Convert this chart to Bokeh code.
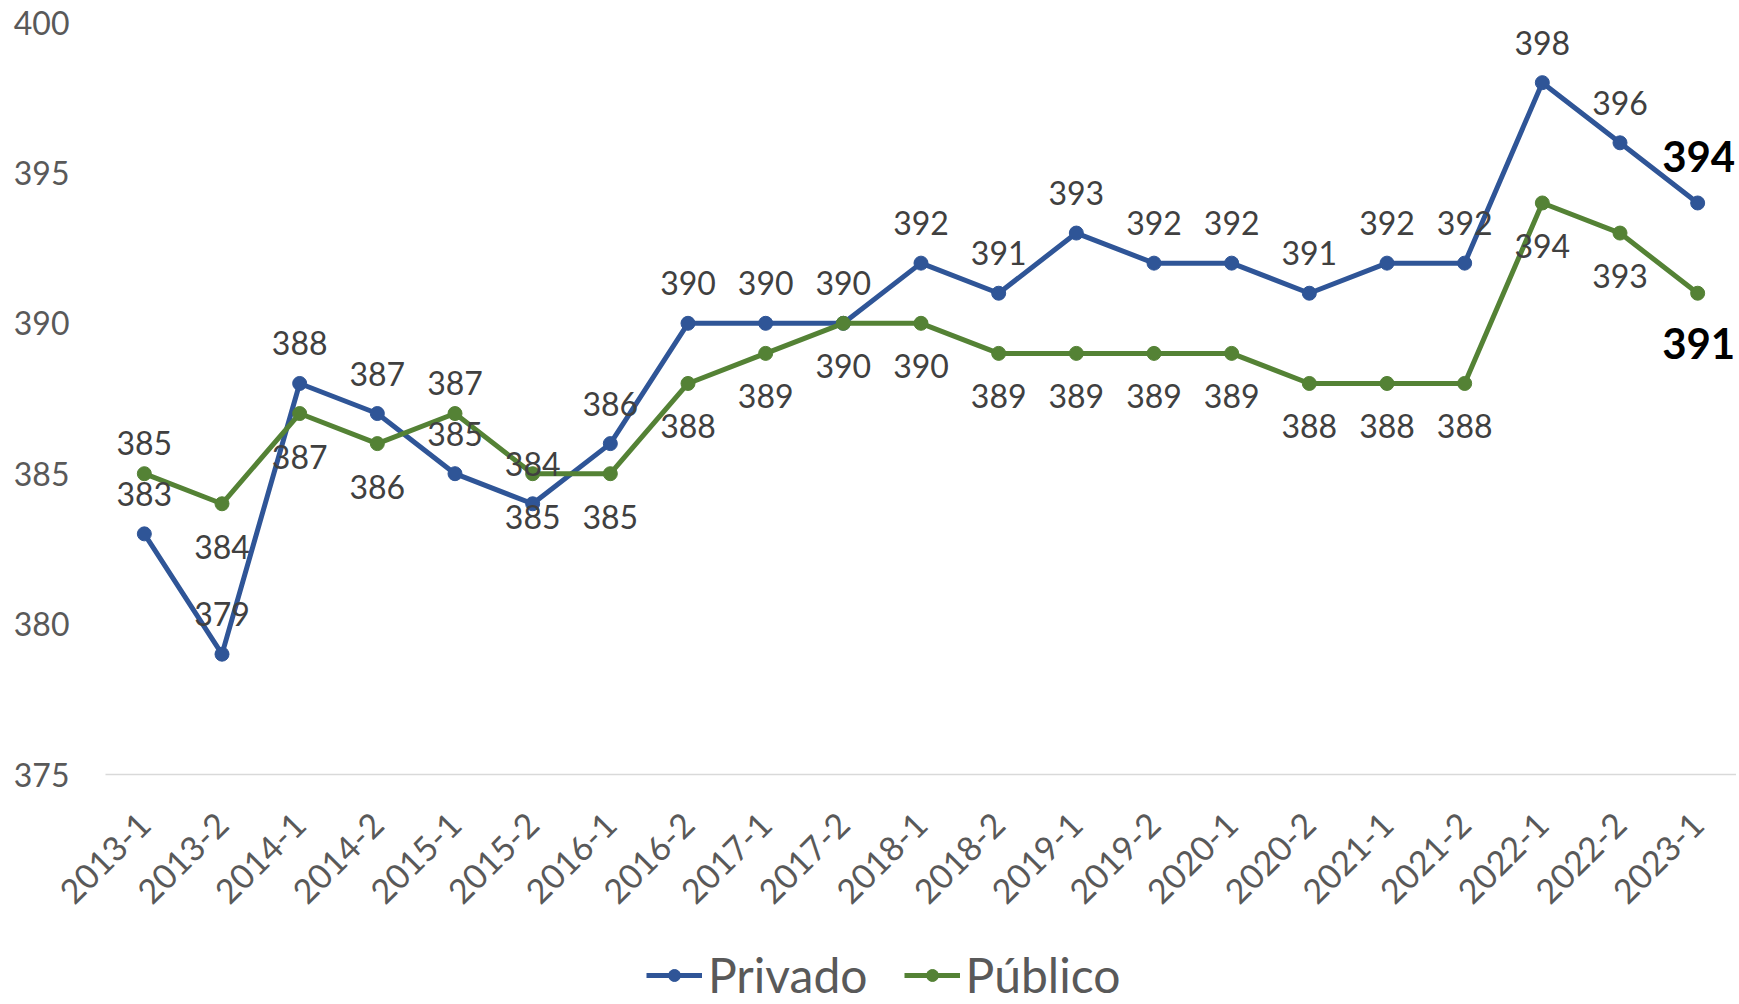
import math
from bokeh.plotting import figure
from bokeh.layouts import column
from bokeh.models import (FactorRange, Range1d, Legend, LegendItem, ColumnDataSource,
                          FixedTicker)
from bokeh.core.properties import value
from bokeh.embed import file_html
from bokeh.resources import INLINE

# ---------------- data ----------------
periodos = ["2013-1", "2013-2", "2014-1", "2014-2", "2015-1", "2015-2", "2016-1",
            "2016-2", "2017-1", "2017-2", "2018-1", "2018-2", "2019-1", "2019-2",
            "2020-1", "2020-2", "2021-1", "2021-2", "2022-1", "2022-2", "2023-1"]
privado = [383, 379, 388, 387, 385, 384, 386, 390, 390, 390, 392, 391, 393, 392,
           392, 391, 392, 392, 398, 396, 394]
publico = [385, 384, 387, 386, 387, 385, 385, 388, 389, 390, 390, 389, 389, 389,
           389, 388, 388, 388, 394, 393, 391]
y_ticks = [375, 380, 385, 390, 395, 400]
serie_nombres = ["Privado", "Público"]

# label placement style: Público labels drawn above the point at these periods
publico_arriba = {"2013-1", "2015-1"}

# ---------------- style ----------------
AZUL = "#2F5597"
VERDE = "#548235"
FONT = "Lato"
Y0, Y1 = 375, 400
W = 1736
TOP, LEFT, BOTTOM = 22, 105, 148
FRAME_H = 752
H_MAIN = TOP + FRAME_H + BOTTOM
H_LEG = 1003 - H_MAIN
PX = FRAME_H / (Y1 - Y0)  # pixels per data unit

p = figure(x_range=FactorRange(*periodos), y_range=Range1d(Y0, Y1),
           width=W, height=H_MAIN, output_backend="svg", toolbar_location=None,
           min_border_left=LEFT, min_border_right=0, min_border_top=TOP,
           min_border_bottom=BOTTOM)
p.outline_line_color = None
p.background_fill_color = "white"
p.xgrid.visible = False
p.ygrid.visible = False

# axes
p.yaxis.ticker = FixedTicker(ticks=y_ticks)
p.yaxis.axis_line_color = None
p.yaxis.major_tick_line_color = None
p.yaxis.minor_tick_line_color = None
p.yaxis.major_tick_out = 0
p.yaxis.major_tick_in = 0
p.yaxis.major_label_standoff = 36
p.yaxis.major_label_text_font = FONT
p.yaxis.major_label_text_font_size = "32px"
p.yaxis.major_label_text_color = "#595959"

p.xaxis.axis_line_color = "#D9D9D9"
p.xaxis.axis_line_width = 1.5
p.xaxis.major_tick_line_color = None
p.xaxis.minor_tick_line_color = None
p.xaxis.major_tick_out = 0
p.xaxis.major_tick_in = 0
p.xaxis.major_label_orientation = math.pi / 4
p.xaxis.major_label_standoff = 44
p.xaxis.major_label_text_font = FONT
p.xaxis.major_label_text_font_size = "34px"
p.xaxis.major_label_text_color = "#595959"

src = ColumnDataSource(dict(x=periodos, priv=privado, pub=publico))

p.line("x", "priv", source=src, line_color=AZUL, line_width=5)
p.scatter("x", "priv", source=src, size=14, fill_color=AZUL, line_color=AZUL)
p.line("x", "pub", source=src, line_color=VERDE, line_width=5)
p.scatter("x", "pub", source=src, size=14, fill_color=VERDE, line_color=VERDE)

# data labels (all but last)
n = len(periodos)
lx, ly, lt = [], [], []
for i in range(n - 1):
    lx.append(periodos[i]); ly.append(privado[i] + 40 / PX); lt.append(str(privado[i]))
    if periodos[i] in publico_arriba:
        ly_pub = publico[i] + 31 / PX
    else:
        ly_pub = publico[i] - 43 / PX
    lx.append(periodos[i]); ly.append(ly_pub); lt.append(str(publico[i]))
p.text(x="x", y="y", text="t", source=ColumnDataSource(dict(x=lx, y=ly, t=lt)),
       text_align="center", text_baseline="middle", text_font=value(FONT),
       text_font_size="32px", text_color="#404040")

# last-period labels, bold
bx = [periodos[-1], periodos[-1]]
by = [privado[-1] + 46 / PX, publico[-1] - 50 / PX]
bt = [str(privado[-1]), str(publico[-1])]
p.text(x="x", y="y", text="t", source=ColumnDataSource(dict(x=bx, y=by, t=bt)),
       text_align="center", text_baseline="middle", text_font=value(FONT),
       text_font_size="42px", text_font_style="bold", text_color="#000000",
       x_offset=1)

# ---------------- legend strip ----------------
pl = figure(width=W, height=H_LEG, x_range=Range1d(0, 1), y_range=Range1d(0, 1),
            output_backend="svg", toolbar_location=None,
            min_border_left=0, min_border_right=0, min_border_top=0,
            min_border_bottom=0)
pl.axis.visible = False
pl.xgrid.visible = False
pl.ygrid.visible = False
pl.outline_line_color = None
# legend-only proxies, placed outside the visible range
fuera = dict(x=[-5, -4], y=[-5, -5])
dl1 = pl.line(fuera["x"], fuera["y"], line_color=AZUL, line_width=5)
ds1 = pl.scatter(fuera["x"], fuera["y"], size=14, fill_color=AZUL, line_color=AZUL)
dl2 = pl.line(fuera["x"], fuera["y"], line_color=VERDE, line_width=5)
ds2 = pl.scatter(fuera["x"], fuera["y"], size=14, fill_color=VERDE, line_color=VERDE)

legend = Legend(items=[LegendItem(label=serie_nombres[0], renderers=[dl1, ds1]),
                       LegendItem(label=serie_nombres[1], renderers=[dl2, ds2])],
                orientation="horizontal", location=(541, 0),
                label_text_font=FONT, label_text_font_size="48px",
                label_text_color="#595959", glyph_width=56, glyph_height=30,
                label_standoff=6, spacing=36, padding=0, margin=0,
                border_line_color=None, background_fill_alpha=0)
pl.add_layout(legend, "center")

layout = column(p, pl, spacing=0)
open("out.html", "w").write(file_html(layout, INLINE))
